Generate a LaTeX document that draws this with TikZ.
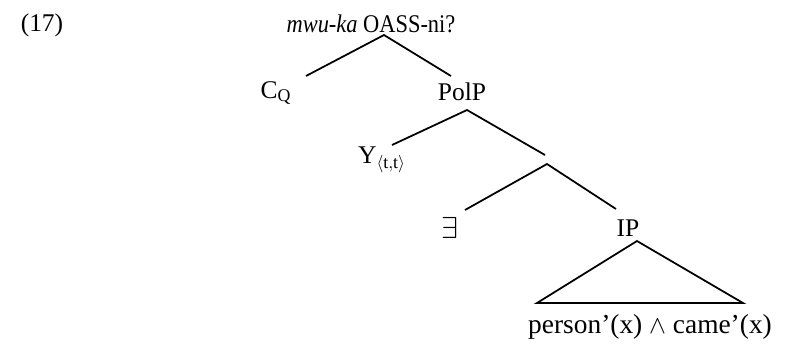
\documentclass[tikz,border=0pt]{standalone}
\usepackage{fontspec}
\setmainfont{Liberation Serif}
\usepackage{amsmath,amssymb}
\usepackage{tikz}
\usetikzlibrary{positioning}

\tikzset{lbl/.style={inner sep=0pt, font=\fontsize{14.5}{17}\selectfont}}

\begin{document}
\begin{tikzpicture}[x=0.02cm, y=-0.02cm, line width=1pt]
    \useasboundingbox (0,0) rectangle (785,349);
    % labels
    \node[lbl] (ex) at (42,25) {(17)};
    \node[lbl] (root) at (371,24) {\scalebox{0.88}[1]{\textit{mwu-ka} OASS-ni?}};
    \node[lbl] (cq) at (276,93) {C\textsubscript{Q}};
    \node[lbl] (polp) at (462,92) {PolP};
    \node[lbl] (y) at (382,160) {Y$_{\langle\mathrm{t,t}\rangle}$};
    \node[lbl, font=\fontsize{18}{20}\selectfont] (ex2) at (450,228) {$\exists$};
    \node[lbl] (ip) at (628,228) {IP};
    \node[lbl, font=\fontsize{15.6}{18}\selectfont] (sem) at (650,327) {person'(x) $\wedge$ came'(x)};
    % branch points
    \coordinate (r) at (384,35);
    \coordinate (rl) at (306,76);
    \coordinate (rr) at (451,76);
    \coordinate (p) at (467,110);
    \coordinate (pl) at (392,145);
    \coordinate (pr) at (545,155);
    \coordinate (m) at (547,164);
    \coordinate (ml) at (465,210);
    \coordinate (mr) at (616,209);
    \coordinate (t) at (637,241);
    \coordinate (tl) at (537,303);
    \coordinate (tr) at (743,303);
    \draw (rl) -- (r) -- (rr);
    \draw (pl) -- (p) -- (pr);
    \draw (ml) -- (m) -- (mr);
    \draw (tl) -- (t) -- (tr) -- cycle;
\end{tikzpicture}
\end{document}
